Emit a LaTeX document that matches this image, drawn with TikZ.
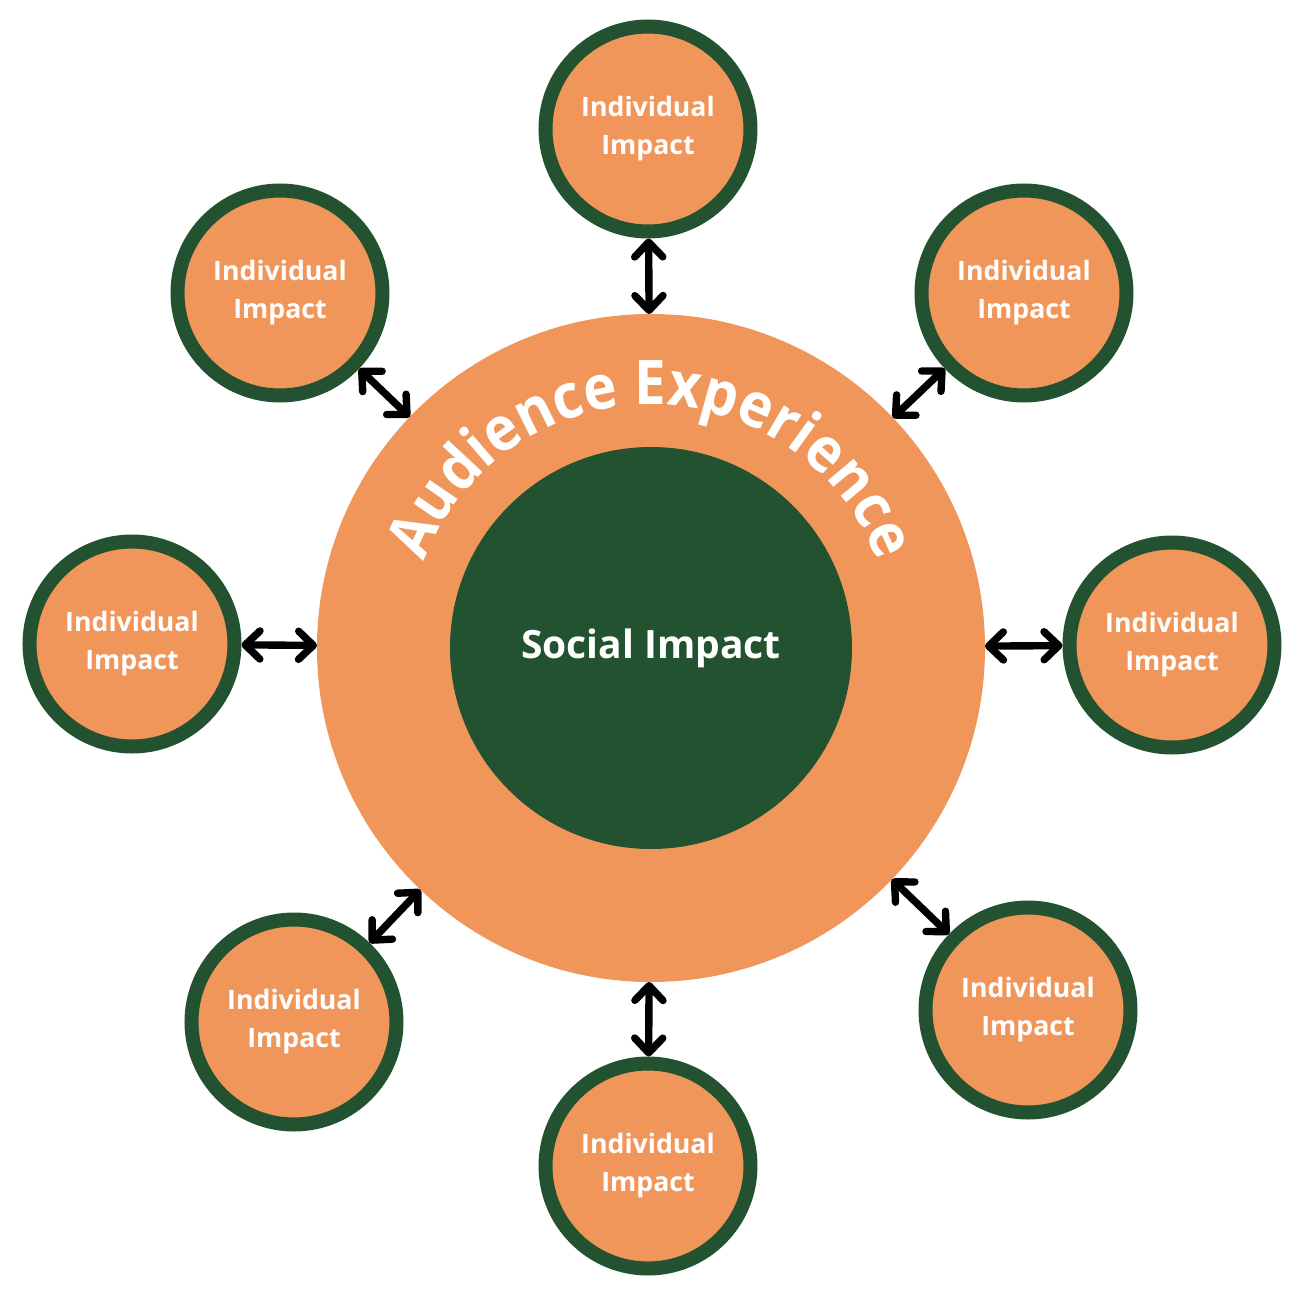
\documentclass[tikz,border=0pt]{standalone}
\usepackage{fontspec}
\setmainfont{Open Sans}
\newfontfamily\arcfont[FakeStretch=0.92]{Open Sans}
\usepackage{xcolor}
\usepackage{tikz}
\usetikzlibrary{arrows.meta,decorations.text}
\definecolor{audorange}{HTML}{F0965A}
\definecolor{socgreen}{HTML}{225230}
\tikzset{
  hub/.style={circle, fill=audorange, minimum size=6.68cm, inner sep=0pt, outer sep=0pt},
  core/.style={circle, fill=socgreen, minimum size=4.02cm, inner sep=0pt, text=white, font=\bfseries\fontsize{11.1}{12}\selectfont},
  indbox/.style={circle, draw=socgreen, line width=0.14cm, fill=audorange, minimum size=2.05cm, inner sep=0pt, align=center, text=white, font=\bfseries\fontsize{7.6}{10.8}\selectfont},
  line/.style={{Straight Barb[round,length=4.2pt,width=8pt]}-{Straight Barb[round,length=4.2pt,width=8pt]}, line width=2.1pt, line cap=round, draw=black}
}
\begin{document}
\begin{tikzpicture}
    \useasboundingbox (-6.51,-6.62) rectangle (6.51,6.48);
    \node[hub] (aud) at (0,0) {};
    \node[core] (soc) at (0,0) {Social Impact};
    \path[decorate, decoration={text along path, text align=center, text color=white,
      text={|\arcfont\bfseries\fontsize{17.5}{17.5}\selectfont|Audience Experience}}]
      (160:2.43) arc[start angle=160, end angle=20, radius=2.43];

    \node[indbox] (indN) at (-0.03,5.19) {Individual\\Impact};
    \node[indbox] (indNE) at (3.73,3.55) {Individual\\Impact};
    \node[indbox] (indE) at (5.21,0.03) {Individual\\Impact};
    \node[indbox] (indSE) at (3.77,-3.62) {Individual\\Impact};
    \node[indbox] (indS) at (-0.03,-5.18) {Individual\\Impact};
    \node[indbox] (indSW) at (-3.57,-3.74) {Individual\\Impact};
    \node[indbox] (indW) at (-5.19,0.04) {Individual\\Impact};
    \node[indbox] (indNW) at (-3.71,3.55) {Individual\\Impact};

    \draw[line] (indN) -- (aud);
    \draw[line] (indNE) -- (aud);
    \draw[line] (indE) -- (aud);
    \draw[line] (indSE) -- (aud);
    \draw[line] (indS) -- (aud);
    \draw[line] (indSW) -- (aud);
    \draw[line] (indW) -- (aud);
    \draw[line] (indNW) -- (aud);
  \end{tikzpicture}
\end{document}
